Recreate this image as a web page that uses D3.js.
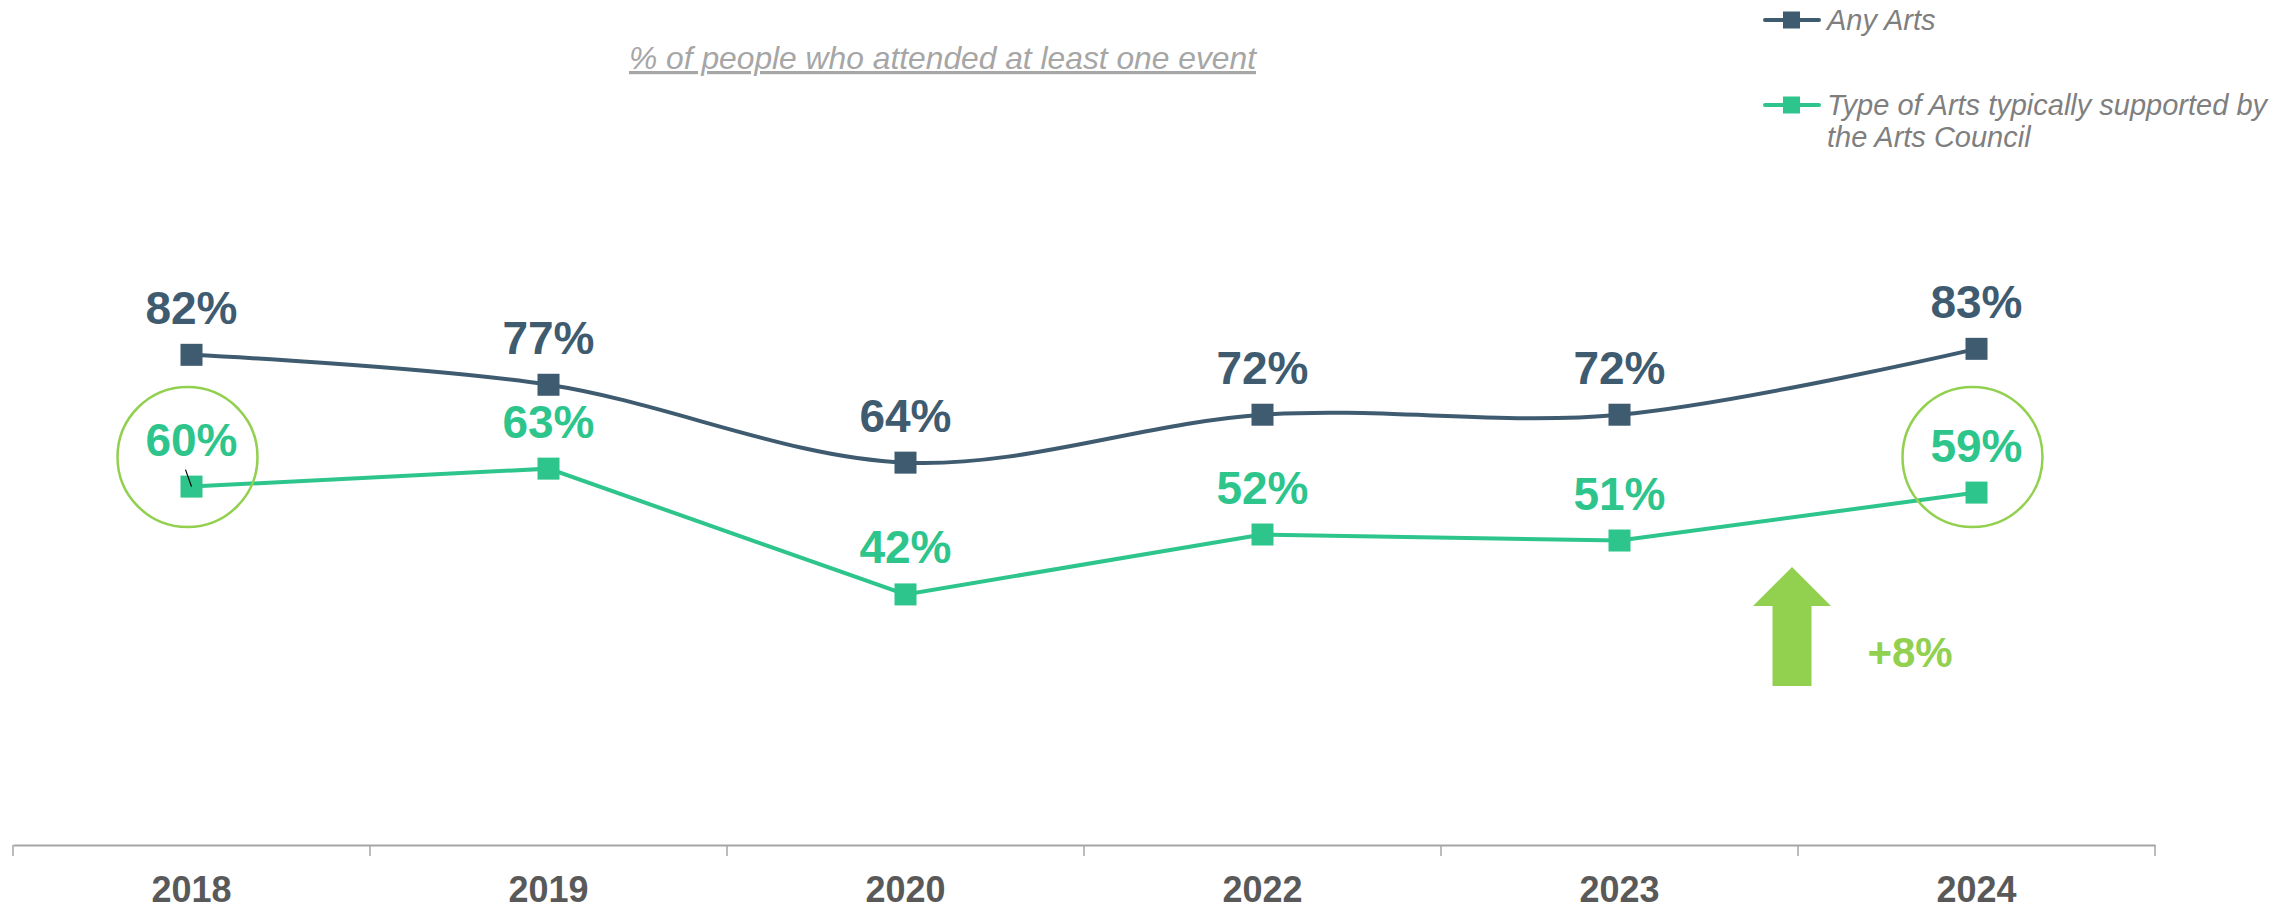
<!DOCTYPE html>
<html>
<head>
<meta charset="utf-8">
<script src="https://cdn.jsdelivr.net/npm/d3@7"></script>
<style>
  body { margin: 0; background: #fff; }
  text { font-family: "Liberation Sans", Arial, sans-serif; }
</style>
</head>
<body>
<div id="chart-area"></div>
<script>

// data
var years = ["2018", "2019", "2020", "2022", "2023", "2024"];
var anyArts = [82, 77, 64, 72, 72, 83];
var artsCouncil = [60, 63, 42, 52, 51, 59];
var seriesNames = ["Any Arts", "Type of Arts typically supported by|the Arts Council"];
var subtitle = "% of people who attended at least one event";
var changeLabel = "+8%";
var circledYears = ["2018", "2024"];

var width = 2294,
    height = 909;

var darkBlue = "#3f5b70",
    green = "#2dc58c",
    lime = "#92d050";

var svg = d3.select("#chart-area")
			.append("svg")
				.attr("width", width)
				.attr("height", height);

//scales
var x = d3.scaleBand()
			.domain(years)
			.range([13, 2155])
			.padding(0);

var y = d3.scaleLinear()
			.domain([0, 100])
			.range([846, 247]);

function cx(d){ return x(d) + x.bandwidth()/2 }

//x axis: labels only, boundary ticks drawn below
var xAxisCall = d3.axisBottom(x).tickSize(0).tickSizeOuter(0);
var xAxis = svg.append("g")
		.attr("class", "x axis")
		.attr("transform", "translate(0, 845)")
		.call(xAxisCall);
xAxis.select(".domain")
		.attr("stroke", "#a6a6a6")
		.attr("stroke-width", 2);
xAxis.selectAll("text")
		.attr("y", 57)
		.attr("dy", null)
		.attr("fill", "#595959")
		.attr("font-size", "36px")
		.attr("font-weight", "bold")
		.attr("font-family", "Liberation Sans, Arial, sans-serif")
		.attr("textLength", 80)
		.attr("lengthAdjust", "spacingAndGlyphs");

var bounds = years.map(function(d){ return x(d) }).concat([x.range()[1]]);
svg.selectAll(".btick")
		.data(bounds)
	.enter()
		.append("line")
		.attr("class", "btick")
		.attr("x1", function(d){ return d })
		.attr("x2", function(d){ return d })
		.attr("y1", 845)
		.attr("y2", 856)
		.attr("stroke", "#a6a6a6")
		.attr("stroke-width", 1.5);

//subtitle
svg.append("text")
		.attr("x", 629)
		.attr("y", 69)
		.attr("font-size", "32px")
		.attr("font-style", "italic")
		.attr("fill", "#a6a6a6")
		.attr("text-decoration", "underline")
		.attr("textLength", 627)
		.attr("lengthAdjust", "spacingAndGlyphs")
		.text(subtitle);

//lines
var smooth = d3.line()
		.x(function(d, i){ return cx(years[i]) })
		.y(function(d){ return y(d) })
		.curve(d3.curveCardinal.tension(0));

var straight = d3.line()
		.x(function(d, i){ return cx(years[i]) })
		.y(function(d){ return y(d) });

svg.append("path")
		.attr("d", smooth(anyArts))
		.attr("fill", "none")
		.attr("stroke", darkBlue)
		.attr("stroke-width", 4);

svg.append("path")
		.attr("d", straight(artsCouncil))
		.attr("fill", "none")
		.attr("stroke", green)
		.attr("stroke-width", 4);

//markers + labels
function drawSeries(values, color, cls){
	svg.selectAll("." + cls + "-pt")
			.data(values)
		.enter()
			.append("rect")
			.attr("class", cls + "-pt")
			.attr("x", function(d, i){ return cx(years[i]) - 11 })
			.attr("y", function(d){ return y(d) - 11 })
			.attr("width", 22)
			.attr("height", 22)
			.attr("fill", color);

	svg.selectAll("." + cls + "-lbl")
			.data(values)
		.enter()
			.append("text")
			.attr("class", cls + "-lbl")
			.attr("x", function(d, i){ return cx(years[i]) })
			.attr("y", function(d){ return y(d) - 31 })
			.attr("text-anchor", "middle")
			.attr("font-size", "46px")
			.attr("font-weight", "bold")
			.attr("fill", color)
			.text(function(d){ return d + "%" });
}
drawSeries(anyArts, darkBlue, "any");
drawSeries(artsCouncil, green, "council");

//little leader line left on the 2018 label
svg.append("line")
		.attr("x1", cx("2018") - 6)
		.attr("y1", y(artsCouncil[0]) - 17)
		.attr("x2", cx("2018"))
		.attr("y2", y(artsCouncil[0]))
		.attr("stroke", "#000")
		.attr("stroke-width", 1.2);

//highlight circles
svg.selectAll(".hl")
		.data(circledYears)
	.enter()
		.append("circle")
		.attr("class", "hl")
		.attr("cx", function(d){ return cx(d) - 4 })
		.attr("cy", 457)
		.attr("r", 70)
		.attr("fill", "none")
		.attr("stroke", lime)
		.attr("stroke-width", 2.5);

//up arrow between 2023 and 2024
var ax = (cx("2023") + cx("2024"))/2 - 6;
svg.append("path")
		.attr("d", "M" + ax + ",567 L" + (ax + 39) + ",606 L" + (ax + 19.5) + ",606 L" + (ax + 19.5) + ",686 L" +
			(ax - 19.5) + ",686 L" + (ax - 19.5) + ",606 L" + (ax - 39) + ",606 Z")
		.attr("fill", lime);

svg.append("text")
		.attr("x", 1910)
		.attr("y", 667)
		.attr("text-anchor", "middle")
		.attr("font-size", "42px")
		.attr("font-weight", "bold")
		.attr("fill", lime)
		.text(changeLabel);

//legend
var legend = svg.append("g").attr("class", "legend");
var legendY = [20, 105];
var legendColors = [darkBlue, green];

seriesNames.forEach(function(name, i){
	var g = legend.append("g")
			.attr("transform", "translate(1765, " + legendY[i] + ")");
	g.append("line")
			.attr("x1", 0)
			.attr("x2", 54)
			.attr("stroke", legendColors[i])
			.attr("stroke-width", 4)
			.attr("stroke-linecap", "round");
	g.append("rect")
			.attr("x", 18)
			.attr("y", -8.5)
			.attr("width", 17)
			.attr("height", 17)
			.attr("fill", legendColors[i]);
	var t = g.append("text")
			.attr("x", 62)
			.attr("y", 10)
			.attr("font-size", "29px")
			.attr("font-style", "italic")
			.attr("fill", "#7f7f7f");
	name.split("|").forEach(function(line, j){
		t.append("tspan")
			.attr("x", 62)
			.attr("dy", j == 0 ? 0 : 32)
			.text(line);
	});
});

</script>
</body>
</html>
